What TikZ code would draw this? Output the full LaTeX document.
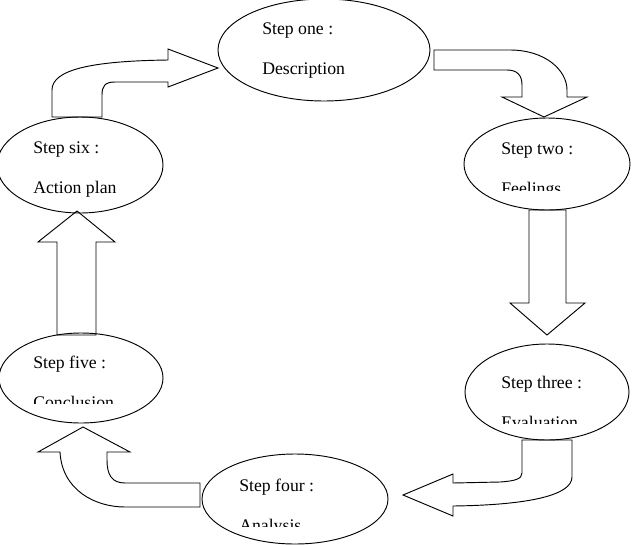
\documentclass[tikz,border=0pt]{standalone}
\usepackage{fontspec}
\setmainfont{Liberation Serif}
\usetikzlibrary{shapes.geometric}

\tikzset{
    stepnode/.style={ellipse, draw, line width=0.7pt, inner sep=0pt},
    steptext/.style={anchor=base west, inner sep=0pt, font=\fontsize{13.3}{16}\selectfont},
    blockarrow/.style={draw, fill=white, line width=0.7pt, line join=miter}
}

\begin{document}
\begin{tikzpicture}[x=0.75pt, y=-0.75pt]

    \useasboundingbox (0,0) rectangle (633,544);

    % block arrows
    \draw[blockarrow] (52,117) -- (52,90) .. controls (52,70) and (90,61) .. (168,60) -- (168,49) -- (218,68) -- (168,87) -- (168,82) -- (115,82) .. controls (105,82) and (102,86) .. (102,95) -- (102,117) -- cycle;
    \draw[blockarrow] (434,50) -- (510,50) .. controls (545,50) and (567,70) .. (567,90) -- (567,97) -- (587,97) -- (544,117) -- (502,97) -- (522,97) -- (522,85) .. controls (522,75) and (517,70) .. (507,70) -- (434,70) -- cycle;
    \draw[blockarrow] (529,210) -- (529,303) -- (510,303) -- (547,335) -- (585,303) -- (566,303) -- (566,210) -- cycle;
    \draw[blockarrow] (522,440) -- (522,473) .. controls (522,479) and (515,481) .. (500,482) -- (453,483) -- (453,474) -- (403,495) -- (453,516) -- (453,506) .. controls (530,505) and (572,495) .. (572,477) -- (572,440) -- cycle;
    \draw[blockarrow] (200,483) -- (125,483) .. controls (112,483) and (107,475) .. (107,460) -- (107,452) -- (130,452) -- (83,427) -- (38,452) -- (60,452) .. controls (62,490) and (95,507) .. (125,507) -- (200,507) -- cycle;
    \draw[blockarrow] (57,335) -- (57,242) -- (38,242) -- (77,211) -- (115,242) -- (96,242) -- (96,335) -- cycle;

    % steps
    \node[stepnode, minimum width=159pt, minimum height=76.5pt] (one) at (324,50) {};
    \node[stepnode, minimum width=124.5pt, minimum height=69pt] (two) at (547,164) {};
    \node[stepnode, minimum width=123pt, minimum height=72pt] (three) at (547,392) {};
    \node[stepnode, minimum width=139.5pt, minimum height=67.5pt] (four) at (295,499) {};
    \node[stepnode, minimum width=123pt, minimum height=67.5pt] (five) at (81,378) {};
    \node[stepnode, minimum width=124.5pt, minimum height=72pt] (six) at (80,165) {};

    \node[steptext] (one-a) at (262,34) {Step one :};
    \node[steptext] (one-b) at (262,74) {Description};
    \node[steptext] (two-a) at (501,154) {Step two :};
    \node[steptext] (three-a) at (501,388) {Step three :};
    \node[steptext] (four-a) at (239,491) {Step four :};
    \node[steptext] (five-a) at (33,368) {Step five :};
    \node[steptext] (six-a) at (33,153) {Step six :};
    \node[steptext] (six-b) at (33,193) {Action plan};

    % cut-off second lines
    \begin{scope}
        \clip (0,0) rectangle (633,190);
        \node[steptext] (two-b) at (501,194) {Feelings};
    \end{scope}
    \begin{scope}
        \clip (0,0) rectangle (633,423);
        \node[steptext] (three-b) at (501,428) {Evaluation};
    \end{scope}
    \begin{scope}
        \clip (0,0) rectangle (633,526);
        \node[steptext] (four-b) at (239,531) {Analysis};
    \end{scope}
    \begin{scope}
        \clip (0,0) rectangle (633,403);
        \node[steptext] (five-b) at (33,408) {Conclusion};
    \end{scope}

\end{tikzpicture}
\end{document}
